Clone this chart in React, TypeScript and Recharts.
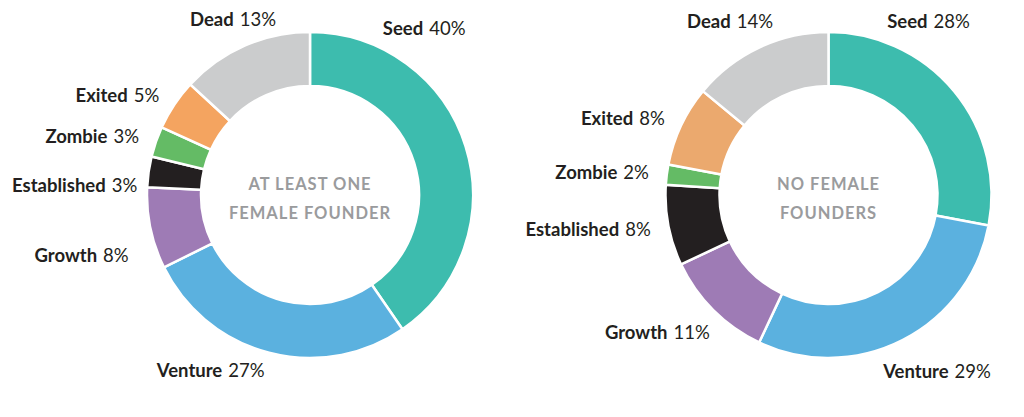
import React from "react";
import { PieChart, Pie, Cell } from "recharts";

const categories = ["Seed", "Venture", "Growth", "Established", "Zombie", "Exited", "Dead"];
const femaleValues = [40, 27, 8, 3, 3, 5, 13];
const noFemaleValues = [28, 29, 11, 8, 2, 8, 14];

const femaleTitle = ["AT LEAST ONE", "FEMALE FOUNDER"];
const noFemaleTitle = ["NO FEMALE", "FOUNDERS"];

const COLORS_LEFT = ["#3dbcae", "#5bb1df", "#9e7bb5", "#231f20", "#64bb65", "#f4a460", "#cbcccd"];
const COLORS_RIGHT = ["#3dbcae", "#5bb1df", "#9e7bb5", "#231f20", "#64bb65", "#eba96e", "#cbcccd"];

const FONT = "Lato, 'Open Sans', sans-serif";
const RAD = Math.PI / 180;

// label placement tweaks (clockwise degrees from 12 o'clock), like the hand-placed originals
type LabelTweak = { angle?: number; anchor?: "start" | "middle" | "end"; gap?: number };
const LEFT_TWEAKS: Record<string, LabelTweak> = {
  Seed: { angle: 23.6, anchor: "start", gap: 19 },
  Dead: { anchor: "middle", gap: 29 },
  Growth: { angle: 251.7, gap: 28 },
  Established: { angle: 273.3, gap: 10 },
};
const RIGHT_TWEAKS: Record<string, LabelTweak> = {
  Seed: { angle: 18.6, anchor: "start", gap: 21 },
  Venture: { angle: 162.7, anchor: "start", gap: 21 },
  Growth: { angle: 221 },
  Dead: { angle: 330.5, anchor: "middle", gap: 37 },
};

const makeLabel = (tweaks: Record<string, LabelTweak>) => (props: any) => {
  const { cx, cy, midAngle, outerRadius, payload } = props;
  const t = tweaks[payload.name] || {};
  const theta = t.angle ?? 90 - midAngle;
  const r = outerRadius + (t.gap ?? 18);
  const x = cx + r * Math.sin(theta * RAD);
  const y = cy - r * Math.cos(theta * RAD);
  const anchor = t.anchor ?? (x < cx ? "end" : "start");
  return (
    <text
      x={x}
      y={y}
      textAnchor={anchor}
      dominantBaseline="central"
      fill="#231f20"
      fontFamily={FONT}
      fontSize={18.5}
    >
      <tspan fontWeight={700}>{payload.name}</tspan>
      <tspan dx={6}>{payload.value}%</tspan>
    </text>
  );
};

const CX = 310;
const CY = 195;

function Donut({
  values,
  colors,
  title,
  cx,
  tweaks,
}: {
  values: number[];
  colors: string[];
  title: string[];
  cx: number;
  tweaks: Record<string, LabelTweak>;
}) {
  const data = categories.map((name, i) => ({ name, value: values[i] }));
  return (
    <PieChart width={512} height={417} margin={{ top: 0, right: 0, bottom: 0, left: 0 }}>
      <Pie
        data={data}
        dataKey="value"
        nameKey="name"
        cx={cx}
        cy={CY}
        innerRadius={109}
        outerRadius={163}
        startAngle={90}
        endAngle={-270}
        stroke="#ffffff"
        strokeWidth={2.5}
        label={makeLabel(tweaks)}
        labelLine={false}
        isAnimationActive={false}
      >
        {data.map((d, i) => (
          <Cell key={d.name} fill={colors[i]} />
        ))}
      </Pie>
      {title.map((line, i) => (
        <text
          key={line}
          x={cx}
          y={CY - 11 + i * 29}
          textAnchor="middle"
          dominantBaseline="central"
          fill="#9a9b9d"
          fontFamily={FONT}
          fontWeight={700}
          fontSize={16.5}
          letterSpacing={1}
        >
          {line}
        </text>
      ))}
    </PieChart>
  );
}

export default function App() {
  return (
    <div
      style={{
        position: "absolute",
        left: 0,
        top: 0,
        width: 1024,
        height: 417,
        background: "#ffffff",
        display: "flex",
      }}
    >
      <Donut values={femaleValues} colors={COLORS_LEFT} title={femaleTitle} cx={CX} tweaks={LEFT_TWEAKS} />
      <Donut values={noFemaleValues} colors={COLORS_RIGHT} title={noFemaleTitle} cx={CX + 6.5} tweaks={RIGHT_TWEAKS} />
    </div>
  );
}
